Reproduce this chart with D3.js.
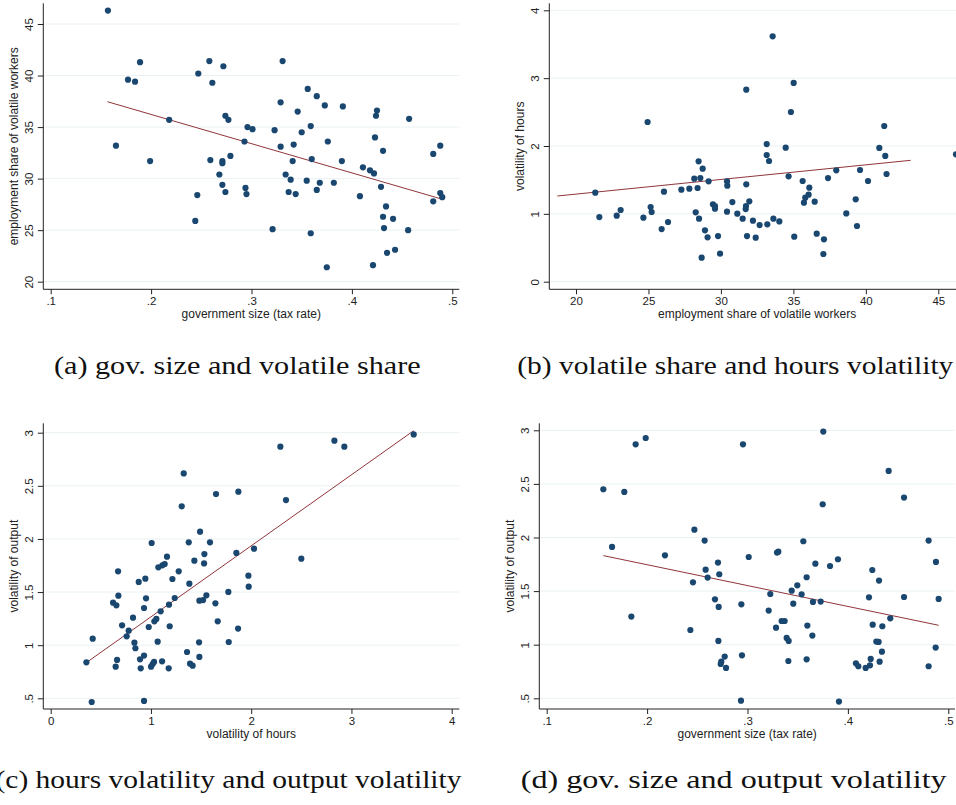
<!DOCTYPE html>
<html>
<head>
<meta charset="utf-8">
<script src="https://cdn.jsdelivr.net/npm/d3@7"></script>
<style>
  body { margin: 0; background: #fff; }
  svg { display: block; }
</style>
</head>
<body>
<div id="chart"></div>
<script>
// ---- data ----
// (a) government size vs volatile share
const aTax = [0.157,0.165,0.177,0.184,0.189,0.199,0.218,0.244,0.246,0.247,0.258,0.259,0.261,0.268,0.271,0.271,0.271,0.272,0.274,0.274,0.277,0.279,0.293,0.294,0.295,0.296,0.301,0.321,0.323,0.329,0.329,0.331,0.334,0.337,0.339,0.341,0.342,0.344,0.346,0.350,0.355,0.356,0.359,0.359,0.360,0.365,0.365,0.368,0.373,0.375,0.376,0.382,0.390,0.391,0.408,0.411,0.418,0.421,0.422,0.423,0.424,0.425,0.429,0.431,0.431,0.432,0.434,0.435,0.441,0.443,0.456,0.457,0.481,0.481,0.488,0.488,0.490];
const aShare = [46.3,33.2,39.6,39.4,41.3,31.7,35.7,25.9,28.4,40.2,41.4,31.8,39.3,30.4,29.4,31.7,31.5,40.9,36.1,28.7,35.7,32.2,33.6,29.1,28.5,35.0,34.8,25.1,34.7,33.1,37.4,41.4,30.4,28.7,29.9,31.7,33.3,28.5,36.5,34.5,29.8,38.7,24.7,35.1,31.9,28.9,38.0,29.6,37.1,21.4,33.6,29.6,31.7,37.0,28.3,31.1,30.8,21.6,30.5,34.0,36.1,36.6,29.2,32.7,26.3,25.2,27.3,22.8,26.1,23.1,25.0,35.8,27.8,32.4,33.2,28.6,28.2];

// (b) volatile share vs hours volatility
const bShare = [21.33,21.61,22.81,23.08,24.65,24.94,25.15,25.22,25.91,26.07,26.35,27.27,27.82,28.16,28.26,28.39,28.46,28.49,28.58,28.67,28.74,28.9,29.08,29.15,29.45,29.59,29.59,29.8,29.94,30.42,30.42,30.44,30.79,31.13,31.5,31.71,31.73,31.75,31.75,31.8,31.96,32.21,32.4,32.67,33.16,33.16,33.2,33.32,33.57,33.62,34.03,34.47,34.67,34.83,35.02,35.06,35.64,35.73,35.82,36.05,36.1,36.47,36.61,37.07,37.11,37.39,37.96,38.65,39.3,39.39,39.6,40.15,40.93,41.27,41.34,41.43,46.22];
const bHours = [1.312,0.953,0.973,1.057,0.943,2.354,1.101,1.027,0.776,1.327,0.880,1.356,1.371,1.518,1.022,1.381,1.774,0.929,1.528,0.354,1.666,0.757,0.654,1.479,1.140,1.115,1.076,0.673,0.413,1.032,1.479,1.415,1.174,1.002,0.929,1.071,1.115,1.435,2.830,0.673,1.184,0.899,0.649,0.835,2.029,1.867,0.845,1.779,3.617,0.929,0.889,1.975,1.553,2.501,2.929,0.663,1.484,1.165,1.238,1.283,1.386,1.179,0.708,0.408,0.624,1.528,1.641,1.007,1.214,0.821,1.646,1.484,1.971,2.295,1.853,1.587,1.877];

// (c) hours volatility vs output volatility
const cHours = [0.356,0.409,0.419,0.622,0.648,0.655,0.662,0.672,0.675,0.712,0.758,0.778,0.821,0.835,0.845,0.878,0.891,0.898,0.931,0.931,0.931,0.944,0.951,0.978,1.001,1.007,1.017,1.031,1.034,1.054,1.067,1.074,1.097,1.111,1.114,1.137,1.160,1.177,1.180,1.187,1.214,1.237,1.277,1.307,1.327,1.360,1.377,1.383,1.390,1.416,1.433,1.480,1.483,1.483,1.490,1.520,1.530,1.533,1.553,1.589,1.643,1.649,1.666,1.772,1.776,1.852,1.869,1.872,1.972,1.975,2.028,2.291,2.347,2.500,2.830,2.929,3.621];
const cOutput = [0.839,0.465,1.061,1.400,0.798,1.375,0.861,1.695,1.466,1.187,1.083,1.137,1.259,1.024,0.971,1.595,0.867,0.782,1.350,0.902,0.475,1.626,1.441,1.171,0.798,1.962,0.823,0.842,1.225,1.247,1.033,1.733,1.319,0.848,1.752,1.764,1.833,0.782,1.381,1.178,1.623,1.444,1.695,2.307,2.617,0.936,1.968,1.579,0.826,0.807,1.795,1.027,0.889,1.419,2.068,1.425,1.770,1.858,1.469,1.968,1.394,2.423,1.225,1.501,1.030,1.868,1.156,2.445,1.654,1.551,1.908,2.868,2.366,1.814,2.925,2.868,2.984];

// (d) government size vs output volatility
const dTax = [0.1564,0.1651,0.1773,0.1843,0.1886,0.1986,0.2178,0.2431,0.2457,0.2471,0.2573,0.2583,0.2603,0.2676,0.2706,0.2710,0.2713,0.2719,0.2733,0.2739,0.2773,0.2786,0.2939,0.2935,0.2945,0.2955,0.3012,0.3211,0.3227,0.3284,0.3294,0.3307,0.3340,0.3370,0.3390,0.3410,0.3407,0.3440,0.3456,0.3496,0.3539,0.3556,0.3589,0.3596,0.3589,0.3646,0.3652,0.3676,0.3729,0.3749,0.3755,0.3822,0.3901,0.3911,0.4080,0.4104,0.4177,0.4210,0.4220,0.4227,0.4243,0.4247,0.4283,0.4306,0.4310,0.4316,0.4339,0.4343,0.4406,0.4422,0.4559,0.4559,0.4804,0.4804,0.4877,0.4874,0.4904];
const dOutput = [2.450,1.912,2.425,1.262,2.869,2.928,1.834,1.137,1.582,2.073,1.971,1.700,1.626,1.423,1.766,1.035,1.352,1.657,0.820,0.842,0.889,0.783,1.377,0.478,0.901,2.869,1.818,1.318,1.473,1.159,1.859,1.868,1.221,1.221,1.063,1.035,0.848,1.504,1.383,1.554,1.470,1.965,1.629,1.178,0.864,1.085,1.399,1.756,1.402,2.310,2.988,1.734,1.797,0.469,0.826,0.799,0.783,1.442,0.808,0.867,1.697,1.187,1.029,1.026,1.598,0.842,0.935,1.172,2.621,1.246,2.372,1.445,1.971,0.799,1.772,0.973,1.427];

// fitted lines (x range and y at ends)
const fitA = { x: [0.1565, 0.4904], y: [37.46, 27.99] };
const fitB = { x: [18.71, 43.09],   y: [1.263, 1.789] };
const fitC = { x: [0.356, 3.621],   y: [0.836, 3.019] };
const fitD = { x: [0.1564, 0.4904], y: [1.831, 1.181] };

// ticks
const taxTicks = [0.1, 0.2, 0.3, 0.4, 0.5];
const taxLabels = ['.1', '.2', '.3', '.4', '.5'];
const shareTicks = [20, 25, 30, 35, 40, 45];
const shareLabels = ['20', '25', '30', '35', '40', '45'];
const hoursTicks = [0, 1, 2, 3, 4];
const hoursLabels = ['0', '1', '2', '3', '4'];
const outputTicks = [0.5, 1, 1.5, 2, 2.5, 3];
const outputLabels = ['.5', '1', '1.5', '2', '2.5', '3'];

const titleTax = 'government size (tax rate)';
const titleShare = 'employment share of volatile workers';
const titleHours = 'volatility of hours';
const titleOutput = 'volatility of output';

const captions = [
    '(a) gov. size and volatile share',
    '(b) volatile share and hours volatility',
    '(c) hours volatility and output volatility',
    '(d) gov. size and output volatility',
];

// ---- layout ----
const navy = '#1a476f';
const maroon = '#90353b';
const gridColor = '#eaf2f3';
const axisColor = '#222';

const panels = [
    { xs: aTax, ys: aShare, fit: fitA,
      xDomain: [0.1, 0.5], xRange: [50.7, 452.3], yDomain: [20, 45], yRange: [281.7, 24],
      xTicks: taxTicks, xLabels: taxLabels, yTicks: shareTicks, yLabels: shareLabels,
      xTitle: titleTax, yTitle: titleShare,
      left: 43.3, right: 459.3, top: 3.3, bottom: 289.3,
      cap: captions[0], capX: 54, capY: 373.5, capW: 366.7 },
    { xs: bShare, ys: bHours, fit: fitB,
      xDomain: [20, 45], xRange: [576, 938.3], yDomain: [0, 4], yRange: [281.7, 10.3],
      xTicks: shareTicks, xLabels: shareLabels, yTicks: hoursTicks, yLabels: hoursLabels,
      xTitle: titleShare, yTitle: titleHours,
      left: 549.3, right: 965, top: 3.3, bottom: 289.3,
      cap: captions[1], capX: 517.3, capY: 373.5, capW: 436 },
    { xs: cHours, ys: cOutput, fit: fitC,
      xDomain: [0, 4], xRange: [50.7, 451.7], yDomain: [0.5, 3], yRange: [698.3, 432.7],
      xTicks: hoursTicks, xLabels: hoursLabels, yTicks: outputTicks, yLabels: outputLabels,
      xTitle: titleHours, yTitle: titleOutput,
      left: 43.3, right: 459.3, top: 423.3, bottom: 709,
      cap: captions[2], capX: -4.5, capY: 787.5, capW: 466 },
    { xs: dTax, ys: dOutput, fit: fitD,
      xDomain: [0.1, 0.5], xRange: [546.7, 948.3], yDomain: [0.5, 3], yRange: [698.3, 430.3],
      xTicks: taxTicks, xLabels: taxLabels, yTicks: outputTicks, yLabels: outputLabels,
      xTitle: titleTax, yTitle: titleOutput,
      left: 539.3, right: 955, top: 423.3, bottom: 709,
      cap: captions[3], capX: 520.7, capY: 787.5, capW: 426 },
];

const svg = d3.select('#chart')
    .append('svg')
    .attr('width', 956)
    .attr('height', 805)
    .style('font-family', 'Arial, "Liberation Sans", sans-serif')
;

panels.forEach(p => {
    const x = d3.scaleLinear().domain(p.xDomain).range(p.xRange);
    const y = d3.scaleLinear().domain(p.yDomain).range(p.yRange);
    const g = svg.append('g');

    // gridlines
    g.selectAll('.grid')
        .data(p.yTicks)
        .enter()
        .append('line')
        .attr('x1', p.left)
        .attr('x2', p.right)
        .attr('y1', d => y(d))
        .attr('y2', d => y(d))
        .attr('stroke', gridColor)
        .attr('stroke-width', 1)
    ;

    // fitted line
    g.append('line')
        .attr('x1', x(p.fit.x[0]))
        .attr('y1', y(p.fit.y[0]))
        .attr('x2', x(p.fit.x[1]))
        .attr('y2', y(p.fit.y[1]))
        .attr('stroke', maroon)
        .attr('stroke-width', 1)
    ;

    // points
    g.selectAll('circle')
        .data(p.xs.map((v, i) => [v, p.ys[i]]))
        .enter()
        .append('circle')
        .attr('cx', d => x(d[0]))
        .attr('cy', d => y(d[1]))
        .attr('r', 3.1)
        .attr('fill', navy)
    ;

    // x axis
    const xAxis = d3.axisBottom(x)
        .tickValues(p.xTicks)
        .tickFormat((d, i) => p.xLabels[i])
        .tickSize(5)
        .tickSizeOuter(0)
        .tickPadding(2.5)
    ;
    const xg = g.append('g')
        .attr('transform', `translate(0, ${p.bottom})`)
        .call(xAxis)
    ;
    xg.select('.domain').remove();
    xg.selectAll('line').attr('stroke', axisColor);
    xg.selectAll('text').attr('fill', axisColor).style('font-size', '11.5px').style('font-family', null);

    // y axis
    const yAxis = d3.axisLeft(y)
        .tickValues(p.yTicks)
        .tickFormat((d, i) => p.yLabels[i])
        .tickSize(5.5)
        .tickSizeOuter(0)
    ;
    const yg = g.append('g')
        .attr('transform', `translate(${p.left}, 0)`)
        .call(yAxis)
    ;
    yg.select('.domain').remove();
    yg.selectAll('line').attr('stroke', axisColor);
    yg.selectAll('text')
        .attr('x', null)
        .attr('dy', null)
        .attr('transform', 'translate(-10.5, 0) rotate(-90)')
        .attr('text-anchor', 'middle')
        .attr('fill', axisColor)
        .style('font-size', '11.5px')
        .style('font-family', null)
    ;

    // axis lines
    g.append('line')
        .attr('x1', p.left).attr('x2', p.left)
        .attr('y1', p.top).attr('y2', p.bottom)
        .attr('stroke', axisColor)
    ;
    g.append('line')
        .attr('x1', p.left).attr('x2', p.right)
        .attr('y1', p.bottom).attr('y2', p.bottom)
        .attr('stroke', axisColor)
    ;

    // axis titles
    g.append('text')
        .attr('x', (p.left + p.right) / 2)
        .attr('y', p.bottom + 29)
        .attr('text-anchor', 'middle')
        .attr('fill', axisColor)
        .style('font-size', '12px')
        .text(p.xTitle)
    ;
    g.append('text')
        .attr('transform', `translate(${p.left - 25.5}, ${(p.top + p.bottom) / 2}) rotate(-90)`)
        .attr('text-anchor', 'middle')
        .attr('fill', axisColor)
        .style('font-size', '12px')
        .text(p.yTitle)
    ;

    // caption
    svg.append('text')
        .attr('x', p.capX)
        .attr('y', p.capY)
        .attr('textLength', p.capW)
        .attr('lengthAdjust', 'spacingAndGlyphs')
        .attr('fill', '#111')
        .style('font-family', '"Liberation Serif", "DejaVu Serif", serif')
        .style('font-size', '25px')
        .text(p.cap)
    ;
});
</script>
</body>
</html>
